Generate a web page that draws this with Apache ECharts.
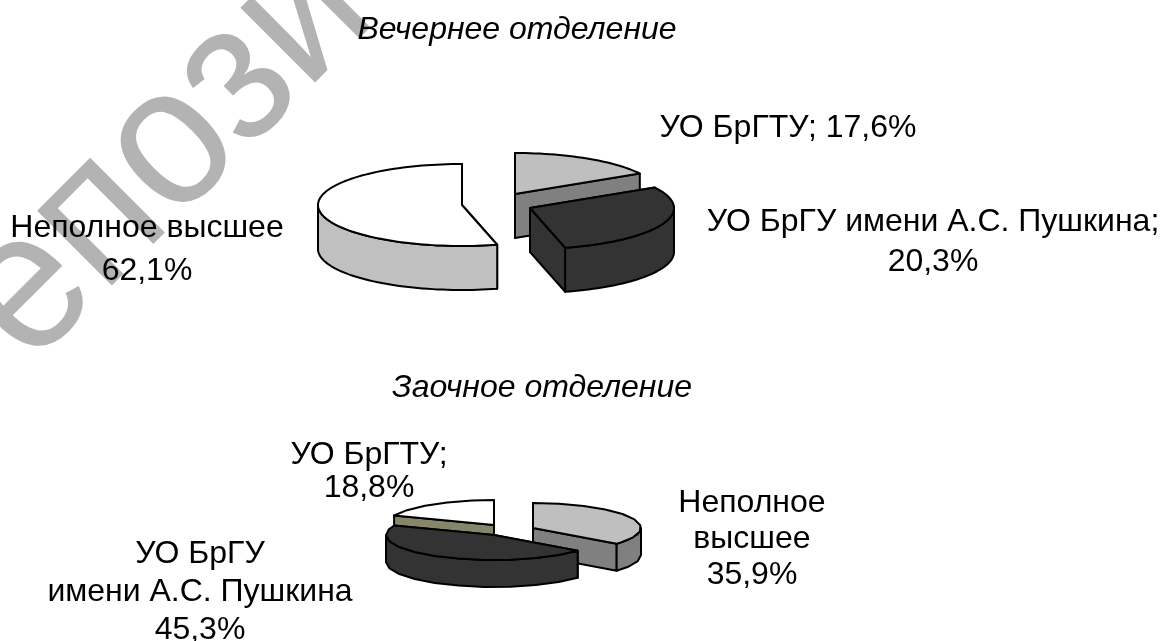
<!DOCTYPE html>
<html>
<head>
<meta charset="utf-8">
<title>Вечернее и заочное отделение</title>
<style>
    html, body { margin: 0; padding: 0; background: #fff; }
    #main { width: 1171px; height: 641px; }
</style>
<script src="https://cdn.jsdelivr.net/npm/echarts@6/dist/echarts.min.js"></script>
</head>
<body>
<div id="main"></div>
<script>
    // данные
    var eveningTitle = 'Вечернее отделение';
    var eveningNames = ['УО БрГТУ', 'УО БрГУ имени А.С. Пушкина', 'Неполное высшее'];
    var eveningValues = [17.6, 20.3, 62.1];

    var extramuralTitle = 'Заочное отделение';
    var extramuralNames = ['Неполное высшее', 'УО БрГУ имени А.С. Пушкина', 'УО БрГТУ'];
    var extramuralValues = [35.9, 45.3, 18.8];

    var watermark = 'Репозиторий';

    // вид круговых диаграмм
    var eveningView = {
        rx: 144, ry: 41, depth: 44, step: 2,
        skew: [0.95, 1.45, 0.87],
        offsets: [[515, 194], [530, 208], [462, 205]],
        top: ['#bfbfbf', '#333333', '#ffffff'],
        side: ['#808080', '#333333', '#c0c0c0']
    };
    var extramuralView = {
        rx: 108, ry: 25, depth: 27, step: 14,
        skew: [1, 1, 1],
        offsets: [[533, 528], [494, 535], [494, 525]],
        top: ['#bfbfbf', '#333333', '#ffffff'],
        side: ['#808080', '#333333', '#86866b']
    };

    var fontName = '"Liberation Sans", Arial, sans-serif';

    function percent(v) {
        return v.toFixed(1).replace('.', ',') + '%';
    }

    function sliceAngles(values, view) {
        var total = 0, i, list = [], cur = 0;
        for (i = 0; i < values.length; i++) {
            total += values[i] * view.skew[i];
        }
        for (i = 0; i < values.length; i++) {
            var sweep = values[i] * view.skew[i] / total * 360;
            list.push([cur, cur + sweep]);
            cur += sweep;
        }
        return list;
    }

    function pieSeries(values, view) {
        var angles = sliceAngles(values, view);
        var rows = values.map(function (v, i) { return [i, v]; });
        // сначала дальние секторы, потом ближние
        rows.sort(function (a, b) { return view.offsets[a[0]][1] - view.offsets[b[0]][1]; });

        return {
            type: 'custom',
            coordinateSystem: 'none',
            silent: true,
            data: rows,
            renderItem: function (params, api) {
                var idx = api.value(0);
                var from = angles[idx][0], to = angles[idx][1];
                var o = view.offsets[idx];
                var line = { stroke: '#000', lineWidth: 2, lineJoin: 'round' };

                function pt(deg, down) {
                    var t = deg * Math.PI / 180;
                    return [o[0] + view.rx * Math.sin(t), o[1] - view.ry * Math.cos(t) + (down ? view.depth : 0)];
                }
                function arc(a, b) {
                    var pts = [], d;
                    for (d = a; d < b; d += view.step) {
                        pts.push(pt(d));
                    }
                    pts.push(pt(b));
                    return pts;
                }
                function poly(points, fill) {
                    return {
                        type: 'polygon',
                        shape: { points: points },
                        style: { fill: fill, stroke: line.stroke, lineWidth: line.lineWidth, lineJoin: line.lineJoin }
                    };
                }
                function radial(deg) {
                    return poly([[o[0], o[1]], pt(deg), pt(deg, true), [o[0], o[1] + view.depth]], view.side[idx]);
                }

                var children = [radial(from), radial(to)];
                var a = Math.max(from, 90), b = Math.min(to, 270);
                if (b > a) {
                    var upper = arc(a, b);
                    var lower = upper.map(function (p) { return [p[0], p[1] + view.depth]; }).reverse();
                    children.push(poly(upper.concat(lower), view.side[idx]));
                }
                children.push(poly([[o[0], o[1]]].concat(arc(from, to)), view.top[idx]));
                return { type: 'group', children: children };
            }
        };
    }

    function textItem(text, x, y, opt) {
        opt = opt || {};
        return {
            type: 'text',
            x: x,
            y: y,
            z: 10,
            silent: true,
            style: {
                text: text,
                fill: '#000',
                font: (opt.italic ? 'italic ' : '') + '32px ' + fontName,
                align: 'center',
                verticalAlign: 'middle',
                lineHeight: opt.lineHeight || 36
            }
        };
    }

    var chart = echarts.init(document.getElementById('main'), null, { renderer: 'canvas' });

    chart.setOption({
        backgroundColor: '#fff',
        animation: false,
        graphic: [
            {
                type: 'text',
                x: -162,
                y: 340,
                z: 0,
                rotation: Math.PI / 4,
                scaleX: 0.93,
                silent: true,
                style: {
                    text: watermark,
                    fill: '#b3b3b3',
                    font: '200px ' + fontName,
                    align: 'left',
                    verticalAlign: 'alphabetic'
                }
            },
            textItem(eveningTitle, 517, 30, { italic: true }),
            textItem(eveningNames[0] + '; ' + percent(eveningValues[0]), 788, 128),
            textItem(eveningNames[1] + ';\n' + percent(eveningValues[1]), 933, 242, { lineHeight: 40 }),
            textItem(eveningNames[2] + '\n' + percent(eveningValues[2]), 147, 250, { lineHeight: 43 }),
            textItem(extramuralTitle, 542, 388, { italic: true }),
            textItem(extramuralNames[2] + ';\n' + percent(extramuralValues[2]), 369, 472, { lineHeight: 33 }),
            textItem('Неполное\nвысшее\n' + percent(extramuralValues[0]), 752, 539, { lineHeight: 36 }),
            textItem('УО БрГУ\nимени А.С. Пушкина\n' + percent(extramuralValues[1]), 200, 592, { lineHeight: 38 })
        ],
        series: [
            pieSeries(eveningValues, eveningView),
            pieSeries(extramuralValues, extramuralView)
        ]
    });
</script>
</body>
</html>
